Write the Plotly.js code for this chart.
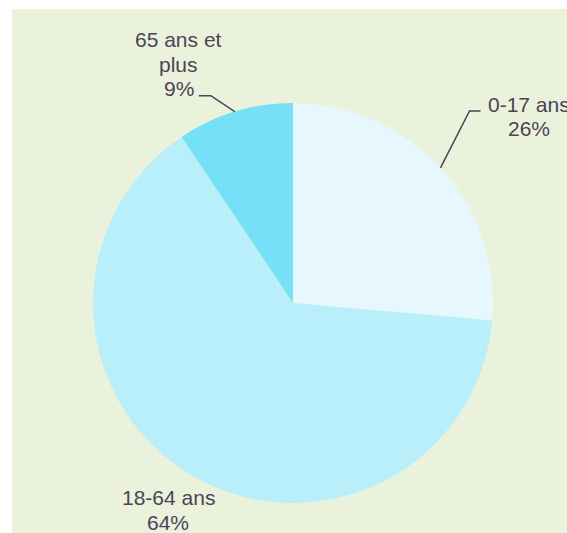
<!DOCTYPE html>
<html>
<head>
<meta charset="utf-8">
<script src="https://cdn.plot.ly/plotly-3.0.1.min.js"></script>
<style>
  body { margin: 0; background: #ffffff; overflow: hidden; }
  #chart { position: absolute; left: 12px; top: 9px; width: 555px; height: 524px; }
</style>
</head>
<body>
<div id="chart"></div>
<script>
// tranches d'age, en % de la population
const order = ['0-17 ans', '18-64 ans', '65 ans et<br>plus'];
const values = [26.4, 64.2, 9.4];
const colors = ['#E6F8FD', '#B9EFFA', '#76E0F7'];

const W = 555, H = 524;
const cx = 281, cy = 294, R = 200;
const ink = '#4B4358';
const lineGap = 24.5;

const total = values.reduce((a, b) => a + b, 0);

// label placement: offsets of leader elbow / leader end / text centre from the slice edge (px)
const labelStyle = {
  '0-17 ans':          {leader: [[29, -57], [40, -57]], text: [88, -51.5]},
  '18-64 ans':         {leader: null, text: [-23, 35]},
  '65 ans et<br>plus': {leader: [[-24, -16], [-36, -16]], text: [-56, -47.3]}
};

const px = x => x / W;
const py = y => 1 - y / H;

const annotations = [];
const shapes = [];
let start = 0;
order.forEach((name, i) => {
  const v = values[i];
  const mid = (start + v / 2) / total * 2 * Math.PI;
  start += v;
  const ex = cx + R * Math.sin(mid);
  const ey = cy - R * Math.cos(mid);
  const st = labelStyle[name];
  if (st.leader) {
    let d = `M ${px(ex)},${py(ey)}`;
    st.leader.forEach(p => { d += ` L ${px(ex + p[0])},${py(ey + p[1])}`; });
    shapes.push({type: 'path', xref: 'paper', yref: 'paper', path: d,
      line: {color: ink, width: 1.5}});
  }
  const lines = name.split('<br>').concat(Math.round(v / total * 100) + '%');
  lines.forEach((txt, k) => {
    const dy = (k - (lines.length - 1) / 2) * lineGap;
    annotations.push({
      xref: 'paper', yref: 'paper',
      x: px(ex + st.text[0]), y: py(ey + st.text[1] + dy),
      xanchor: 'center', yanchor: 'middle', align: 'center',
      showarrow: false,
      text: txt,
      font: {family: 'Liberation Sans, Arial, sans-serif', size: 21, color: ink}
    });
  });
});

Plotly.newPlot('chart', [{
  type: 'pie',
  labels: order,
  values: values,
  sort: false,
  direction: 'clockwise',
  rotation: 0,
  textinfo: 'none',
  hoverinfo: 'label+percent',
  marker: {colors: colors, line: {width: 0}},
  domain: {x: [(cx - R) / W, (cx + R) / W], y: [(H - cy - R) / H, (H - cy + R) / H]},
  showlegend: false
}], {
  width: W, height: H,
  margin: {l: 0, r: 0, t: 0, b: 0},
  paper_bgcolor: '#EBF2DB',
  annotations: annotations,
  shapes: shapes
}, {displayModeBar: false, staticPlot: true});
</script>
</body>
</html>
